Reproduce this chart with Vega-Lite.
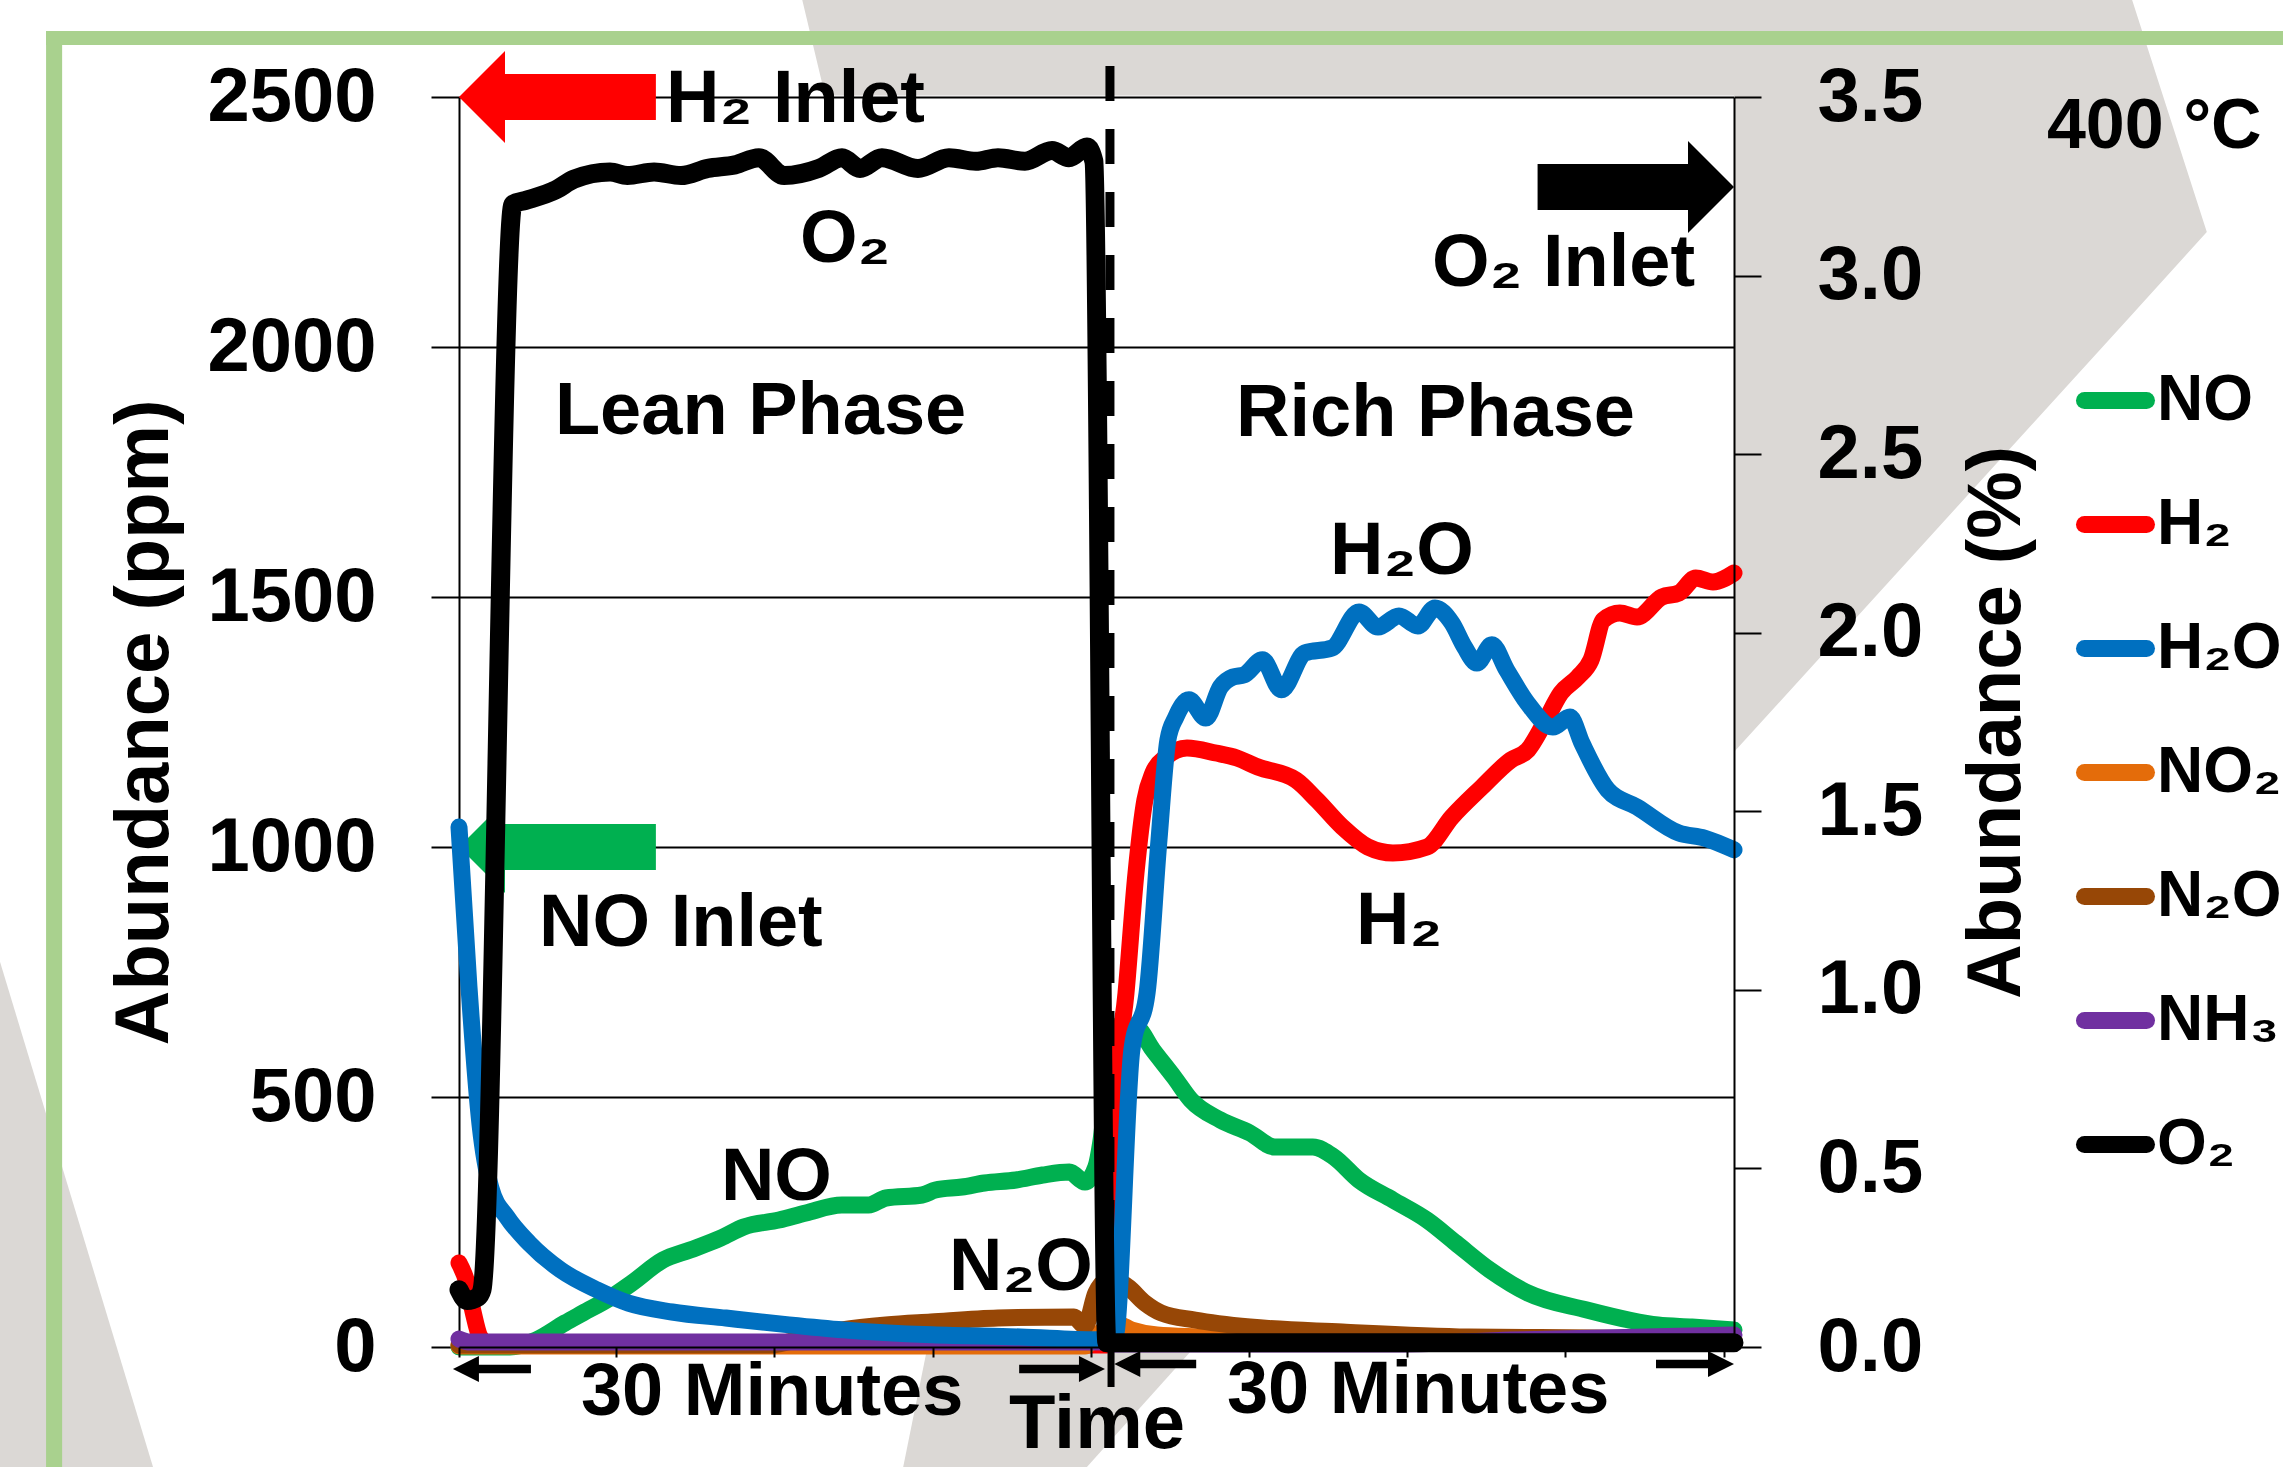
{
  "$schema": "https://vega.github.io/schema/vega-lite/v6.json",
  "width": 1275,
  "height": 1250,
  "autosize": {"type": "none"},
  "padding": {"left": 459, "top": 97, "right": 549, "bottom": 120},
  "background": "white",
  "config": {"view": {"stroke": null}, "font": "Liberation Sans"},
  "datasets": {
    "ppm": [
      {"series":"NO","t":0,"ppm":0},{"series":"NO","t":2.35,"ppm":0},{"series":"NO","t":3.55,"ppm":14},{"series":"NO","t":4.88,"ppm":48},{"series":"NO","t":5.71,"ppm":68},{"series":"NO","t":6.96,"ppm":98},{"series":"NO","t":7.97,"ppm":128},{"series":"NO","t":9.40,"ppm":174},{"series":"NO","t":10.65,"ppm":194},{"series":"NO","t":12.07,"ppm":218},{"series":"NO","t":13.12,"ppm":240},{"series":"NO","t":14.75,"ppm":254},{"series":"NO","t":15.99,"ppm":268},{"series":"NO","t":17.65,"ppm":284},{"series":"NO","t":18.88,"ppm":284},{"series":"NO","t":19.68,"ppm":298},{"series":"NO","t":21.34,"ppm":304},{"series":"NO","t":21.96,"ppm":314},{"series":"NO","t":23.18,"ppm":320},{"series":"NO","t":24.22,"ppm":328},{"series":"NO","t":25.67,"ppm":334},{"series":"NO","t":26.90,"ppm":344},{"series":"NO","t":28.13,"ppm":350},{"series":"NO","t":28.85,"ppm":330},{"series":"NO","t":29.35,"ppm":360},{"series":"NO","t":29.57,"ppm":408},{"series":"NO","t":29.91,"ppm":534},{"series":"NO","t":30.46,"ppm":644},{"series":"NO","t":31.20,"ppm":640},{"series":"NO","t":31.98,"ppm":594},{"series":"NO","t":32.95,"ppm":540},{"series":"NO","t":33.73,"ppm":494},{"series":"NO","t":35.09,"ppm":454},{"series":"NO","t":36.45,"ppm":428},{"series":"NO","t":37.60,"ppm":400},{"series":"NO","t":39.35,"ppm":400},{"series":"NO","t":40.32,"ppm":380},{"series":"NO","t":41.47,"ppm":334},{"series":"NO","t":43.04,"ppm":294},{"series":"NO","t":44.61,"ppm":254},{"series":"NO","t":45.94,"ppm":208},{"series":"NO","t":47.51,"ppm":154},{"series":"NO","t":49.26,"ppm":108},{"series":"NO","t":51.98,"ppm":74},{"series":"NO","t":53.92,"ppm":54},{"series":"NO","t":55.25,"ppm":44},{"series":"NO","t":56.82,"ppm":40},{"series":"NO","t":58.76,"ppm":34},
      {"series":"H₂","t":0,"ppm":168},{"series":"H₂","t":0.37,"ppm":128},{"series":"H₂","t":0.65,"ppm":70},{"series":"H₂","t":0.97,"ppm":20},{"series":"H₂","t":1.43,"ppm":4},{"series":"H₂","t":29.86,"ppm":4},{"series":"H₂","t":30.0,"ppm":14},{"series":"H₂","t":30.09,"ppm":250},{"series":"H₂","t":30.23,"ppm":494},{"series":"H₂","t":30.74,"ppm":708},{"series":"H₂","t":31.20,"ppm":948},{"series":"H₂","t":31.61,"ppm":1094},{"series":"H₂","t":31.98,"ppm":1148},{"series":"H₂","t":32.58,"ppm":1180},{"series":"H₂","t":33.55,"ppm":1198},{"series":"H₂","t":34.88,"ppm":1188},{"series":"H₂","t":35.85,"ppm":1178},{"series":"H₂","t":36.82,"ppm":1160},{"series":"H₂","t":38.57,"ppm":1134},{"series":"H₂","t":39.54,"ppm":1094},{"series":"H₂","t":40.71,"ppm":1040},{"series":"H₂","t":41.89,"ppm":1000},{"series":"H₂","t":43.04,"ppm":988},{"series":"H₂","t":44.61,"ppm":1000},{"series":"H₂","t":45.76,"ppm":1060},{"series":"H₂","t":47.10,"ppm":1118},{"series":"H₂","t":48.48,"ppm":1174},{"series":"H₂","t":49.26,"ppm":1194},{"series":"H₂","t":50.02,"ppm":1248},{"series":"H₂","t":50.78,"ppm":1308},{"series":"H₂","t":51.57,"ppm":1340},{"series":"H₂","t":52.17,"ppm":1374},{"series":"H₂","t":52.74,"ppm":1454},{"series":"H₂","t":53.50,"ppm":1468},{"series":"H₂","t":54.29,"ppm":1460},{"series":"H₂","t":55.44,"ppm":1500},{"series":"H₂","t":56.22,"ppm":1508},{"series":"H₂","t":57.00,"ppm":1538},{"series":"H₂","t":57.79,"ppm":1530},{"series":"H₂","t":58.76,"ppm":1548},
      {"series":"NO₂","t":0,"ppm":2},{"series":"NO₂","t":28.85,"ppm":2},{"series":"NO₂","t":29.31,"ppm":20},{"series":"NO₂","t":29.77,"ppm":36},{"series":"NO₂","t":30.32,"ppm":46},{"series":"NO₂","t":31.01,"ppm":34},{"series":"NO₂","t":32.17,"ppm":24},{"series":"NO₂","t":34.15,"ppm":20},{"series":"NO₂","t":38.76,"ppm":14},{"series":"NO₂","t":58.76,"ppm":8},
      {"series":"N₂O","t":0,"ppm":4},{"series":"N₂O","t":14.33,"ppm":4},{"series":"N₂O","t":16.18,"ppm":22},{"series":"N₂O","t":17.65,"ppm":34},{"series":"N₂O","t":19.68,"ppm":44},{"series":"N₂O","t":21.75,"ppm":50},{"series":"N₂O","t":24.84,"ppm":58},{"series":"N₂O","t":28.34,"ppm":60},{"series":"N₂O","t":28.85,"ppm":42},{"series":"N₂O","t":29.35,"ppm":108},{"series":"N₂O","t":29.72,"ppm":130},{"series":"N₂O","t":30.23,"ppm":134},{"series":"N₂O","t":30.83,"ppm":120},{"series":"N₂O","t":31.61,"ppm":88},{"series":"N₂O","t":32.37,"ppm":68},{"series":"N₂O","t":33.92,"ppm":54},{"series":"N₂O","t":36.45,"ppm":40},{"series":"N₂O","t":40.71,"ppm":30},{"series":"N₂O","t":46.54,"ppm":20},{"series":"N₂O","t":52.35,"ppm":18},{"series":"N₂O","t":58.76,"ppm":14},
      {"series":"NH₃","t":0,"ppm":16},{"series":"NH₃","t":0.51,"ppm":10},{"series":"NH₃","t":29.77,"ppm":10},{"series":"NH₃","t":30.0,"ppm":6},{"series":"NH₃","t":43.36,"ppm":6},{"series":"NH₃","t":48.48,"ppm":14},{"series":"NH₃","t":58.76,"ppm":24}
    ],
    "pct": [
      {"series":"H₂O","t":0,"pct":1.456},{"series":"H₂O","t":0.46,"pct":1.008},{"series":"H₂O","t":0.97,"pct":0.622},{"series":"H₂O","t":1.47,"pct":0.445},{"series":"H₂O","t":2.21,"pct":0.364},{"series":"H₂O","t":3.23,"pct":0.291},{"series":"H₂O","t":4.68,"pct":0.216},{"series":"H₂O","t":6.36,"pct":0.160},{"series":"H₂O","t":7.81,"pct":0.123},{"series":"H₂O","t":9.82,"pct":0.098},{"series":"H₂O","t":12.30,"pct":0.081},{"series":"H₂O","t":15.21,"pct":0.062},{"series":"H₂O","t":17.70,"pct":0.048},{"series":"H₂O","t":21.80,"pct":0.034},{"series":"H₂O","t":25.90,"pct":0.028},{"series":"H₂O","t":29.35,"pct":0.020},{"series":"H₂O","t":30.23,"pct":0.03},{"series":"H₂O","t":31.01,"pct":0.832},{"series":"H₂O","t":31.71,"pct":0.991},{"series":"H₂O","t":32.26,"pct":1.42},{"series":"H₂O","t":32.67,"pct":1.70},{"series":"H₂O","t":33.04,"pct":1.764},{"series":"H₂O","t":33.64,"pct":1.812},{"series":"H₂O","t":34.42,"pct":1.761},{"series":"H₂O","t":35.09,"pct":1.848},{"series":"H₂O","t":35.67,"pct":1.876},{"series":"H₂O","t":36.18,"pct":1.882},{"series":"H₂O","t":37.03,"pct":1.924},{"series":"H₂O","t":37.90,"pct":1.840},{"series":"H₂O","t":38.97,"pct":1.943},{"series":"H₂O","t":40.23,"pct":1.957},{"series":"H₂O","t":41.48,"pct":2.058},{"series":"H₂O","t":42.35,"pct":2.016},{"series":"H₂O","t":43.32,"pct":2.047},{"series":"H₂O","t":44.19,"pct":2.019},{"series":"H₂O","t":44.98,"pct":2.069},{"series":"H₂O","t":45.76,"pct":2.027},{"series":"H₂O","t":46.34,"pct":1.960},{"series":"H₂O","t":46.91,"pct":1.915},{"series":"H₂O","t":47.60,"pct":1.966},{"series":"H₂O","t":48.28,"pct":1.896},{"series":"H₂O","t":49.24,"pct":1.803},{"series":"H₂O","t":50.41,"pct":1.736},{"series":"H₂O","t":51.20,"pct":1.764},{"series":"H₂O","t":51.75,"pct":1.691},{"series":"H₂O","t":52.94,"pct":1.560},{"series":"H₂O","t":54.29,"pct":1.512},{"series":"H₂O","t":56.22,"pct":1.439},{"series":"H₂O","t":57.40,"pct":1.425},{"series":"H₂O","t":58.76,"pct":1.392},
      {"series":"O₂","t":0,"pct":0.16},{"series":"O₂","t":0.37,"pct":0.13},{"series":"O₂","t":0.88,"pct":0.14},{"series":"O₂","t":1.06,"pct":0.16},{"series":"O₂","t":2.49,"pct":3.20},{"series":"O₂","t":3.04,"pct":3.21},{"series":"O₂","t":4.47,"pct":3.24},{"series":"O₂","t":5.30,"pct":3.27},{"series":"O₂","t":6.96,"pct":3.29},{"series":"O₂","t":7.76,"pct":3.28},{"series":"O₂","t":8.99,"pct":3.29},{"series":"O₂","t":10.23,"pct":3.28},{"series":"O₂","t":11.47,"pct":3.30},{"series":"O₂","t":12.72,"pct":3.31},{"series":"O₂","t":13.82,"pct":3.33},{"series":"O₂","t":14.98,"pct":3.28},{"series":"O₂","t":16.59,"pct":3.30},{"series":"O₂","t":17.65,"pct":3.33},{"series":"O₂","t":18.48,"pct":3.30},{"series":"O₂","t":19.49,"pct":3.33},{"series":"O₂","t":21.15,"pct":3.30},{"series":"O₂","t":22.58,"pct":3.33},{"series":"O₂","t":23.82,"pct":3.32},{"series":"O₂","t":24.84,"pct":3.33},{"series":"O₂","t":26.08,"pct":3.32},{"series":"O₂","t":27.33,"pct":3.35},{"series":"O₂","t":28.11,"pct":3.33},{"series":"O₂","t":28.94,"pct":3.36},{"series":"O₂","t":29.26,"pct":3.32},{"series":"O₂","t":29.86,"pct":0.012},{"series":"O₂","t":34.15,"pct":0.012},{"series":"O₂","t":43.36,"pct":0.012},{"series":"O₂","t":58.76,"pct":0.012}
    ],
    "notes": [
      {"label":"H₂ Inlet","t":9.54,"ppm":2450},
      {"label":"O₂","t":15.71,"ppm":2170},
      {"label":"Lean Phase","t":4.42,"ppm":1826},
      {"label":"Rich Phase","t":35.81,"ppm":1822},
      {"label":"O₂ Inlet","t":44.84,"ppm":2122},
      {"label":"H₂O","t":40.14,"ppm":1546},
      {"label":"H₂","t":41.34,"ppm":806},
      {"label":"NO Inlet","t":3.69,"ppm":802},
      {"label":"NO","t":12.07,"ppm":294},
      {"label":"N₂O","t":22.58,"ppm":114},
      {"label":"30 Minutes","t":5.62,"ppm":-136},
      {"label":"30 Minutes","t":35.39,"ppm":-132}
    ]
  },
  "encoding": {
    "x": {
      "field": "t", "type": "quantitative",
      "scale": {"domain": [0, 58.76], "nice": false, "zero": false},
      "axis": {
        "orient": "bottom", "values": [0, 7.244, 14.535, 21.825, 29.12, 36.41, 43.7, 50.99, 58.28], "zindex": 1,
        "labels": false, "grid": false, "ticks": true, "tickSize": 10, "tickWidth": 2, "tickColor": "black",
        "domain": true, "domainWidth": 2, "domainColor": "black",
        "title": "Time", "titleFont": "Liberation Sans", "titleFontSize": 76, "titleFontWeight": "bold", "titleColor": "black",
        "titleBaseline": "alphabetic", "titleAlign": "center", "titleX": 637.5, "titleY": 100
      }
    }
  },
  "layer": [
    {
      "encoding": {
        "y": {
          "field": "ppm", "type": "quantitative",
          "scale": {"domain": [0, 2500], "nice": false, "zero": false},
          "axis": {
            "orient": "left", "values": [0, 500, 1000, 1500, 2000, 2500], "format": "d", "labelLimit": 400,
            "grid": true, "gridColor": "black", "gridWidth": 2, "gridOpacity": 1,
            "domain": true, "domainColor": "black", "domainWidth": 2,
            "ticks": true, "tickSize": 28, "tickWidth": 2, "tickColor": "black",
            "labelFont": "Liberation Sans", "labelFontSize": 76, "labelFontWeight": "bold", "labelColor": "black", "labelPadding": 55,
            "title": "Abundance (ppm)", "titleFont": "Liberation Sans", "titleFontSize": 76, "titleFontWeight": "bold", "titleColor": "black",
            "titleAngle": 270, "titleAlign": "center", "titleBaseline": "alphabetic", "titleX": -292, "titleY": 625
          }
        }
      },
      "layer": [
        {
          "data": {"values": [
            {"t": 15.71, "ppm": 2714, "ppm_end": 2714},
            {"t": 16.87, "ppm": 2714, "ppm_end": 2503},
            {"t": 58.76, "ppm": 2714, "ppm_end": 2503},
            {"t": 58.761, "ppm": 2714, "ppm_end": 1190},
            {"t": 76.96, "ppm": 2714, "ppm_end": 2058},
            {"t": 80.55, "ppm": 2230, "ppm_end": 2230}
          ]},
          "mark": {"type": "area", "color": "#DBD8D5", "opacity": 1, "interpolate": "linear"},
          "encoding": {"y2": {"field": "ppm_end"}}
        },
        {
          "data": {"values": [
            {"t": 20.35, "ppm": -266, "ppm_end": -266},
            {"t": 21.57, "ppm": -4, "ppm_end": -266},
            {"t": 28.40, "ppm": -4, "ppm_end": -266},
            {"t": 33.82, "ppm": -4, "ppm_end": -4}
          ]},
          "mark": {"type": "area", "color": "#DBD8D5", "opacity": 1, "interpolate": "linear"},
          "encoding": {"y2": {"field": "ppm_end"}}
        },
        {
          "data": {"values": [
            {"t": -21.61, "ppm": 836, "ppm_end": -266},
            {"t": -13.92, "ppm": -266, "ppm_end": -266}
          ]},
          "mark": {"type": "area", "color": "#DBD8D5", "opacity": 1, "interpolate": "linear"},
          "encoding": {"y2": {"field": "ppm_end"}}
        },
        {
          "data": {"values": [
            {"t": -19.03, "t_end": 84.84, "ppm": 2632, "ppm_end": 2604},
            {"t": -19.03, "t_end": -18.29, "ppm": 2632, "ppm_end": -266}
          ]},
          "mark": {"type": "rect", "color": "#A9D18E", "opacity": 1},
          "encoding": {"x2": {"field": "t_end"}, "y2": {"field": "ppm_end"}}
        },
        {
          "data": {"name": "ppm"},
          "mark": {"type": "line", "strokeWidth": 17, "strokeCap": "round", "strokeJoin": "round", "interpolate": "monotone"},
          "encoding": {
            "color": {
              "field": "series", "type": "nominal",
              "scale": {"domain": ["NO","H₂","H₂O","NO₂","N₂O","NH₃","O₂"], "range": ["#00B050","#FF0000","#0070C0","#E46C0A","#974706","#7030A0","#000000"]},
              "legend": {"title": null, "orient": "none", "legendX": 1617, "legendY": 264, "symbolType": "stroke", "symbolSize": 3844, "symbolStrokeWidth": 17, "labelFont": "Liberation Sans", "labelFontSize": 64, "labelFontWeight": "bold", "labelColor": "black", "labelOffset": 2, "rowPadding": 50, "padding": 0, "labelLimit": 500, "encode": {"symbols": {"update": {"strokeCap": {"value": "round"}}}}}
            }
          }
        },
        {
          "data": {"values": [{"t": 30, "ppm": 2562, "ppm_end": 0}]},
          "mark": {"type": "rule", "color": "black", "strokeWidth": 9, "strokeDash": [35, 28]},
          "encoding": {"y2": {"field": "ppm_end"}}
        },
        {
          "data": {"values": [{"t": 30.05, "ppm": -6, "ppm_end": -80}]},
          "mark": {"type": "rule", "color": "black", "strokeWidth": 7},
          "encoding": {"y2": {"field": "ppm_end"}}
        },
        {
          "data": {"values": [{"t": 0, "ppm": 2500}]},
          "mark": {"type": "point", "shape": "M0,0L1,-1L1,-0.5L4.28,-0.5L4.28,0.5L1,0.5L1,1Z", "size": 8464, "filled": true, "color": "#FF0000", "opacity": 1, "strokeWidth": 0}
        },
        {
          "data": {"values": [{"t": 0, "ppm": 1000}]},
          "mark": {"type": "point", "shape": "M0,0L1,-1L1,-0.5L4.28,-0.5L4.28,0.5L1,0.5L1,1Z", "size": 8464, "filled": true, "color": "#00B050", "opacity": 1, "strokeWidth": 0}
        },
        {
          "data": {"values": [{"t": 58.76, "ppm": 2320}]},
          "mark": {"type": "point", "shape": "M0,0L-1,-1L-1,-0.5L-4.27,-0.5L-4.27,0.5L-1,0.5L-1,1Z", "size": 8464, "filled": true, "color": "#000000", "opacity": 1, "strokeWidth": 0}
        },
        {
          "data": {"values": [{"t": -0.28, "ppm": -44}]},
          "mark": {"type": "point", "shape": "M0,0L2,-1L2,-0.33L6,-0.33L6,0.33L2,0.33L2,1Z", "size": 676, "filled": true, "color": "#000000", "opacity": 1, "strokeWidth": 0}
        },
        {
          "data": {"values": [{"t": 29.77, "ppm": -44}]},
          "mark": {"type": "point", "shape": "M0,0L-2,-1L-2,-0.33L-6.6,-0.33L-6.6,0.33L-2,0.33L-2,1Z", "size": 676, "filled": true, "color": "#000000", "opacity": 1, "strokeWidth": 0}
        },
        {
          "data": {"values": [{"t": 30.2, "ppm": -34}]},
          "mark": {"type": "point", "shape": "M0,0L2,-1L2,-0.33L6.3,-0.33L6.3,0.33L2,0.33L2,1Z", "size": 676, "filled": true, "color": "#000000", "opacity": 1, "strokeWidth": 0}
        },
        {
          "data": {"values": [{"t": 58.76, "ppm": -34}]},
          "mark": {"type": "point", "shape": "M0,0L-2,-1L-2,-0.33L-6,-0.33L-6,0.33L-2,0.33L-2,1Z", "size": 676, "filled": true, "color": "#000000", "opacity": 1, "strokeWidth": 0}
        },
        {
          "data": {"name": "notes"},
          "mark": {"type": "text", "align": "left", "baseline": "alphabetic", "font": "Liberation Sans", "fontSize": 74, "fontWeight": "bold", "color": "black"},
          "encoding": {"text": {"field": "label"}}
        },
        {
          "data": {"values": [{"label": "400 °C", "t": 73.18, "ppm": 2398}]},
          "mark": {"type": "text", "align": "left", "baseline": "alphabetic", "font": "Liberation Sans", "fontSize": 70, "fontWeight": "bold", "color": "black"},
          "encoding": {"text": {"field": "label"}}
        }
      ]
    },
    {
      "encoding": {
        "y": {
          "field": "pct", "type": "quantitative",
          "scale": {"domain": [0, 3.5], "nice": false, "zero": false},
          "axis": {
            "orient": "right", "values": [0, 0.5, 1, 1.5, 2, 2.5, 3, 3.5], "format": ".1f", "zindex": 1,
            "grid": false, "domain": true, "domainColor": "black", "domainWidth": 2,
            "ticks": true, "tickSize": 27, "tickWidth": 2, "tickColor": "black",
            "labelFont": "Liberation Sans", "labelFontSize": 76, "labelFontWeight": "bold", "labelColor": "black", "labelPadding": 56,
            "title": "Abundance (%)", "titleFont": "Liberation Sans", "titleFontSize": 76, "titleFontWeight": "bold", "titleColor": "black",
            "titleAngle": 270, "titleAlign": "center", "titleBaseline": "alphabetic", "titleX": 285, "titleY": 625
          }
        }
      },
      "layer": [
        {
          "data": {"name": "pct"},
          "transform": [{"filter": "datum.series === 'H₂O'"}],
          "mark": {"type": "line", "strokeWidth": 17, "strokeCap": "round", "strokeJoin": "round", "interpolate": "monotone"},
          "encoding": {
            "color": {
              "field": "series", "type": "nominal",
              "scale": {"domain": ["NO","H₂","H₂O","NO₂","N₂O","NH₃","O₂"], "range": ["#00B050","#FF0000","#0070C0","#E46C0A","#974706","#7030A0","#000000"]},
              "legend": {"title": null, "orient": "none", "legendX": 1617, "legendY": 264, "symbolType": "stroke", "symbolSize": 3844, "symbolStrokeWidth": 17, "labelFont": "Liberation Sans", "labelFontSize": 64, "labelFontWeight": "bold", "labelColor": "black", "labelOffset": 2, "rowPadding": 50, "padding": 0, "labelLimit": 500, "encode": {"symbols": {"update": {"strokeCap": {"value": "round"}}}}}
            }
          }
        },
        {
          "data": {"name": "pct"},
          "transform": [{"filter": "datum.series === 'O₂'"}],
          "mark": {"type": "line", "strokeWidth": 19, "strokeCap": "round", "strokeJoin": "round", "interpolate": "monotone"},
          "encoding": {
            "color": {
              "field": "series", "type": "nominal",
              "scale": {"domain": ["NO","H₂","H₂O","NO₂","N₂O","NH₃","O₂"], "range": ["#00B050","#FF0000","#0070C0","#E46C0A","#974706","#7030A0","#000000"]},
              "legend": {"title": null, "orient": "none", "legendX": 1617, "legendY": 264, "symbolType": "stroke", "symbolSize": 3844, "symbolStrokeWidth": 17, "labelFont": "Liberation Sans", "labelFontSize": 64, "labelFontWeight": "bold", "labelColor": "black", "labelOffset": 2, "rowPadding": 50, "padding": 0, "labelLimit": 500, "encode": {"symbols": {"update": {"strokeCap": {"value": "round"}}}}}
            }
          }
        }
      ]
    }
  ],
  "resolve": {"scale": {"y": "independent"}}
}
